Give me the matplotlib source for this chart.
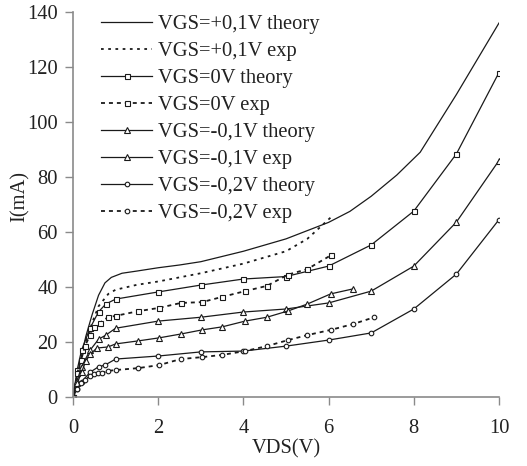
import matplotlib
matplotlib.use("Agg")
import matplotlib.pyplot as plt

# ---- data ----
x_p01_th = [0, 0.1, 0.2, 0.3, 0.45, 0.6, 0.75, 0.9, 1.15, 1.5, 2, 2.5, 3, 4, 5, 6, 6.5, 7, 7.6, 8.15, 9, 10]
y_p01_th = [0, 8, 15, 22, 30, 37, 41.5, 43.5, 45, 45.8, 47, 48, 49.2, 53, 57.5, 63.5, 67.5, 73, 80.7, 89, 110, 136]

x_p01_ex = [0, 0.1, 0.2, 0.3, 0.45, 0.6, 0.83, 1.0, 1.5, 2, 2.5, 3, 4, 5, 5.5, 6.1]
y_p01_ex = [0, 7, 14, 20, 27, 33, 37.5, 39, 40.8, 42, 43.5, 45, 48.5, 53, 57.5, 66]

x_0_th = [0, 0.1, 0.2, 0.4, 0.6, 0.77, 1.0, 2, 3, 4, 5, 6, 7, 8, 9, 10]
y_0_th = [0, 10, 17, 25, 31, 33.8, 35.6, 38.2, 40.7, 42.9, 43.8, 47.6, 55.3, 67.6, 88.4, 118]

x_0_ex = [0, 0.1, 0.19, 0.28, 0.4, 0.5, 0.63, 0.82, 1.0, 1.53, 2.02, 2.53, 3.03, 3.5, 4.04, 4.55, 5.05, 5.5, 6.05]
y_0_ex = [0, 8.7, 13.5, 18.5, 22.5, 25.5, 27, 29, 29.5, 31.2, 32.4, 34.2, 34.5, 36.4, 38.5, 40.4, 44.5, 46.5, 51.5]

x_m01_th = [0, 0.1, 0.2, 0.4, 0.6, 0.77, 1.0, 2, 3, 4, 5, 6, 7, 8, 9, 10]
y_m01_th = [0, 6, 11, 17, 21, 22.5, 25, 27.6, 29, 30.9, 32, 34.2, 38.5, 47.6, 63.6, 86]

x_m01_ex = [0, 0.1, 0.2, 0.3, 0.4, 0.56, 0.82, 1.0, 1.53, 2.02, 2.53, 3.03, 3.5, 4.04, 4.55, 5.05, 5.5, 6.05, 6.57]
y_m01_ex = [0, 5, 9, 13, 15.5, 17.8, 18.2, 19.3, 20.4, 21.5, 22.9, 24.4, 25.5, 27.6, 29, 31.3, 33.8, 37.5, 39.3]

x_m02_th = [0, 0.1, 0.2, 0.4, 0.6, 0.75, 1.0, 2, 3, 4, 5, 6, 7, 8, 9, 10]
y_m02_th = [0, 3, 5.5, 9, 11, 11.6, 13.8, 14.9, 16.4, 16.7, 18.5, 20.7, 23.3, 32, 44.7, 64.5]

x_m02_ex = [0, 0.1, 0.19, 0.28, 0.4, 0.5, 0.59, 0.68, 0.82, 1.0, 1.53, 2.02, 2.53, 3.03, 3.5, 4.04, 4.55, 5.05, 5.5, 6.05, 6.57, 7.07]
y_m02_ex = [0, 3, 5.1, 6.2, 7.6, 8.4, 8.7, 8.7, 9.5, 9.8, 10.5, 11.6, 13.8, 14.5, 15.3, 16.7, 18.5, 20.7, 22.5, 24.4, 26.5, 29]

labels = ["VGS=+0,1V theory", "VGS=+0,1V exp", "VGS=0V theory", "VGS=0V exp",
          "VGS=-0,1V theory", "VGS=-0,1V exp", "VGS=-0,2V theory", "VGS=-0,2V exp"]
x_ticks = [0, 2, 4, 6, 8, 10]
y_ticks = [0, 20, 40, 60, 80, 100, 120, 140]

# ---- style ----
plt.rcParams['font.family'] = ['Liberation Serif', 'DejaVu Serif']
FS = 14.8
LC = '#1a1a1a'
TC = '#222222'
SC = '#8a8a8a'

fig = plt.figure(figsize=(5.27, 4.66), dpi=100)
ax = fig.add_axes([73/527, 1-397/466, (499-73)/527, (397-12)/466])

solid = '-'
dash = (0, (2.2, 2.2))
kw = dict(color=LC, lw=0.9, mfc='white', mec=LC, mew=0.8)

ax.plot(x_p01_th, y_p01_th, linestyle=solid, label=labels[0], **kw)
ax.plot(x_p01_ex, y_p01_ex, linestyle=(0, (1.5, 2.5)), label=labels[1], color=LC, lw=1.3)
ax.plot(x_0_th, y_0_th, linestyle=solid, marker='s', ms=3.6, label=labels[2], **kw)
ax.plot(x_0_ex, y_0_ex, linestyle=dash, marker='s', ms=3.6, label=labels[3],
        color=LC, lw=1.3, mfc='white', mec=LC, mew=0.8)
ax.plot(x_m01_th, y_m01_th, linestyle=solid, marker='^', ms=4.2, label=labels[4], **kw)
ax.plot(x_m01_ex, y_m01_ex, linestyle=solid, marker='^', ms=4.2, label=labels[5], **kw)
ax.plot(x_m02_th, y_m02_th, linestyle=solid, marker='o', ms=3.3, label=labels[6], **kw)
ax.plot(x_m02_ex, y_m02_ex, linestyle=dash, marker='o', ms=3.3, label=labels[7],
        color=LC, lw=1.3, mfc='white', mec=LC, mew=0.8)

ax.set_xlim(0, 10)
ax.set_ylim(0, 140)
ax.set_xticks(x_ticks)
ax.set_yticks(y_ticks)
ax.tick_params(axis='x', direction='out', length=6, width=1, color=SC,
               labelsize=FS, labelcolor=TC, pad=10)
ax.tick_params(axis='y', direction='out', length=6, width=1, color=SC,
               labelsize=FS, labelcolor=TC, pad=5)
for s in ['top', 'right']:
    ax.spines[s].set_visible(False)
for s in ['left', 'bottom']:
    ax.spines[s].set_color(SC)
    ax.spines[s].set_linewidth(1.2)

ax.set_xlabel("VDS(V)", fontsize=FS, color=TC, labelpad=1)
fig.text(20/527, 1-197/466, "I(mA)", rotation=90, ha='center', va='center',
         fontsize=FS, color=TC)

leg = ax.legend(loc='upper left', bbox_to_anchor=(101/527, 1-15/466), bbox_transform=fig.transFigure,
                frameon=False, fontsize=FS, handlelength=2.5, handletextpad=0.25,
                labelspacing=0.37, borderpad=0, borderaxespad=0)
for t in leg.get_texts():
    t.set_color(TC)

fig.savefig("out.png", dpi=100)
